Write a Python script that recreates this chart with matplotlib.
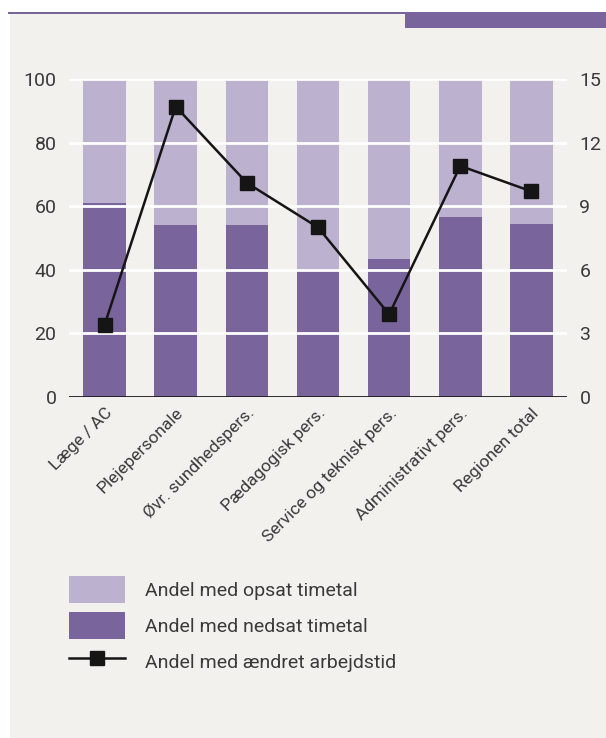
import matplotlib.pyplot as plt
from matplotlib.patches import Rectangle
from matplotlib.lines import Line2D
import numpy as np

# data
categories = ["Læge / AC", "Plejepersonale", "Øvr. sundhedspers.", "Pædagogisk pers.",
              "Service og teknisk pers.", "Administrativt pers.", "Regionen total"]
nedsat = [61, 54, 54, 39.5, 43.5, 56.5, 54.5]
opsat = [39, 46, 46, 60.5, 56.5, 43.5, 45.5]
aendret = [3.4, 13.7, 10.1, 8.0, 3.9, 10.9, 9.7]

left_ticks = [0, 20, 40, 60, 80, 100]
right_ticks = [0, 3, 6, 9, 12, 15]

DARK = "#79659b"
LIGHT = "#bcb1cf"
BG = "#f2f1ee"
TXT = "#3a3a3a"

plt.rcParams['font.family'] = ['Roboto', 'DejaVu Sans']

W, H = 606, 738
fig = plt.figure(figsize=(W / 100, H / 100), dpi=100)
fig.patch.set_facecolor("white")

# panel background and top decoration
fig.patches.append(Rectangle((10 / W, 0), 1, 1 - 13 / H, transform=fig.transFigure,
                             facecolor=BG, edgecolor="none", zorder=-10))
fig.patches.append(Rectangle((8 / W, 1 - 14 / H), 1, 2 / H, transform=fig.transFigure,
                             facecolor=DARK, edgecolor="none", zorder=-9))
fig.patches.append(Rectangle((405 / W, 1 - 28 / H), 1, 14 / H, transform=fig.transFigure,
                             facecolor=DARK, edgecolor="none", zorder=-9))

ax = fig.add_axes([69 / W, 1 - 397 / H, (567 - 69) / W, (397 - 79) / H])
ax.set_facecolor("none")
x = np.arange(len(categories))

ax.bar(x, nedsat, width=0.6, color=DARK, zorder=1)
ax.bar(x, opsat, width=0.6, bottom=nedsat, color=LIGHT, zorder=1)
for t in left_ticks[1:]:
    ax.axhline(t, color="white", lw=2, zorder=2)
ax.axhline(0, color="#1a1a1a", lw=2, zorder=3)

ax.set_xlim(-0.5, len(categories) - 0.5)
ax.set_ylim(0, 100)
ax.set_yticks(left_ticks)
ax.set_xticks(x)
ax.set_xticklabels(categories, rotation=45, ha="right", rotation_mode="anchor")
ax.tick_params(axis="both", length=0, labelsize=14, labelcolor=TXT)
ax.tick_params(axis="x", pad=6, labelsize=12.5)
ax.tick_params(axis="y", pad=9)
for s in ax.spines.values():
    s.set_visible(False)

ax2 = ax.twinx()
ax2.set_ylim(0, 15)
ax2.set_yticks(right_ticks)
ax2.plot(x, aendret, color="#151515", lw=1.8, marker="s", markersize=10,
         markerfacecolor="#151515", markeredgecolor="#151515", zorder=5)
ax2.tick_params(axis="y", length=0, labelsize=14, labelcolor=TXT, pad=9)
for s in ax2.spines.values():
    s.set_visible(False)

handles = [Rectangle((0, 0), 1, 1, facecolor=LIGHT, edgecolor="none"),
           Rectangle((0, 0), 1, 1, facecolor=DARK, edgecolor="none"),
           Line2D([], [], color="#151515", lw=1.8, marker="s", markersize=10)]
labels = ["Andel med opsat timetal", "Andel med nedsat timetal",
          "Andel med ændret arbejdstid"]
fig.legend(handles, labels, loc="upper left", bbox_to_anchor=(69 / W, 1 - 576 / H),
           frameon=False, fontsize=14, handlelength=2.9, handleheight=1.72,
           handletextpad=1.0, labelspacing=0.5, borderpad=0, borderaxespad=0,
           labelcolor=TXT)

fig.savefig("out.png", dpi=100, facecolor=fig.get_facecolor())
